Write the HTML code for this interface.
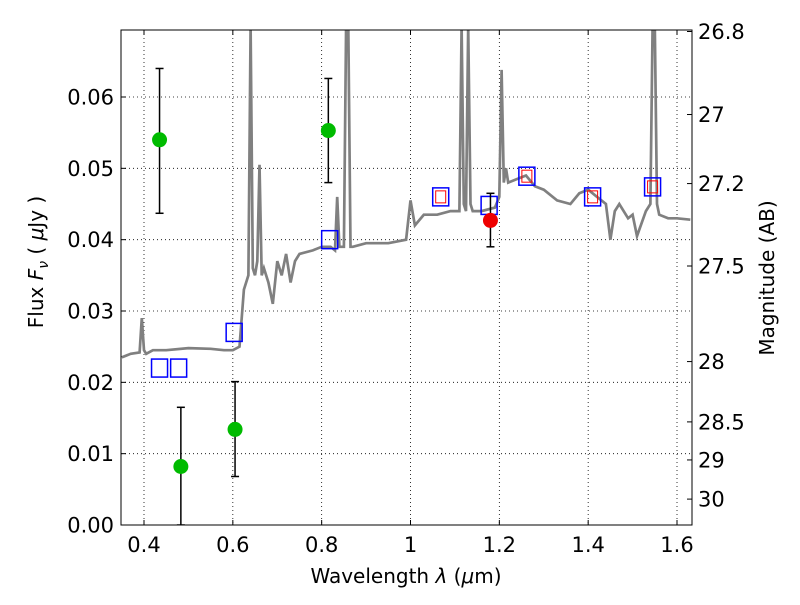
<!DOCTYPE html>
<html><head><meta charset="utf-8"><style>
body{margin:0;background:#fff;}
svg text{font-family:"DejaVu Sans","Liberation Sans",sans-serif;fill:#000;}
</style></head><body>
<svg id="c" width="800" height="600" xmlns="http://www.w3.org/2000/svg"></svg>
<script>
const specX=[0.35,0.37,0.39,0.395,0.40,0.405,0.42,0.45,0.5,0.55,0.58,0.60,0.615,0.625,0.635,0.64,0.645,0.65,0.655,0.66,0.665,0.67,0.68,0.69,0.70,0.71,0.72,0.73,0.74,0.75,0.78,0.80,0.82,0.83,0.835,0.84,0.85,0.855,0.86,0.865,0.87,0.9,0.95,0.99,1.0,1.01,1.03,1.06,1.09,1.11,1.115,1.12,1.125,1.13,1.135,1.14,1.145,1.16,1.19,1.20,1.205,1.21,1.215,1.22,1.24,1.26,1.28,1.30,1.33,1.36,1.38,1.40,1.42,1.44,1.45,1.46,1.47,1.49,1.50,1.51,1.53,1.54,1.545,1.55,1.555,1.56,1.58,1.60,1.63];
const specY=[0.0235,0.024,0.0242,0.029,0.0245,0.024,0.0245,0.0245,0.0248,0.0247,0.0245,0.0245,0.025,0.033,0.035,0.07,0.036,0.035,0.037,0.0505,0.035,0.036,0.034,0.031,0.037,0.035,0.038,0.034,0.037,0.038,0.0385,0.039,0.039,0.0385,0.046,0.039,0.039,0.07,0.07,0.039,0.039,0.0395,0.0395,0.040,0.0455,0.042,0.0435,0.0435,0.044,0.044,0.07,0.045,0.044,0.07,0.045,0.044,0.044,0.044,0.0445,0.046,0.0638,0.048,0.05,0.048,0.0485,0.049,0.0475,0.047,0.0455,0.045,0.0465,0.047,0.046,0.045,0.040,0.044,0.045,0.043,0.0435,0.0405,0.044,0.045,0.07,0.07,0.045,0.0435,0.043,0.043,0.0428];
const photX=[0.435,0.483,0.605,0.815];
const photY=[0.054,0.0082,0.0134,0.0553];
const photLo=[0.0437,0.0,0.0068,0.048];
const photHi=[0.064,0.0165,0.0201,0.0626];
const redX=[1.18],redY=[0.0427],redLo=[0.039],redHi=[0.0465];
const modX=[0.435,0.478,0.603,0.818,1.068,1.177,1.262,1.41,1.545];
const modY=[0.022,0.022,0.027,0.040,0.046,0.0448,0.0489,0.046,0.0474];
const redBoxX=[1.068,1.262,1.41,1.545];
const redBoxY=[0.046,0.0489,0.046,0.0474];
const xTicks=[0.4,0.6,0.8,1.0,1.2,1.4,1.6];
const xTickLabels=["0.4","0.6","0.8","1","1.2","1.4","1.6"];
const yTicks=[0,0.01,0.02,0.03,0.04,0.05,0.06];
const yTickLabels=["0.00","0.01","0.02","0.03","0.04","0.05","0.06"];
const magTicks=[26.8,27,27.2,27.5,28,28.5,29,30];
const magLabels=["26.8","27","27.2","27.5","28","28.5","29","30"];

const L=121,R=692,T=30,B=525;
const X=v=>144+(v-0.4)*444.17;
const Y=v=>525-v*7133.3;
const svg=document.getElementById('c');
const NS='http://www.w3.org/2000/svg';
function mk(t,a,p){const e=document.createElementNS(NS,t);for(const k in a)e.setAttribute(k,a[k]);(p||svg).appendChild(e);return e;}
const defs=mk('defs',{});const cp=mk('clipPath',{id:'pc'},defs);mk('rect',{x:L,y:T,width:R-L,height:B-T},cp);

const grid=mk('g',{});


xTicks.forEach(v=>mk('line',{x1:X(v),x2:X(v),y1:T,y2:B,stroke:'#000','stroke-dasharray':'1,3','stroke-width':0.8},grid));
yTicks.forEach(v=>mk('line',{x1:L,x2:R,y1:Y(v),y2:Y(v),stroke:'#000','stroke-dasharray':'1,3','stroke-width':0.8},grid));

const g=mk('g',{'clip-path':'url(#pc)'});
let d=specX.map((x,i)=>(i?'L':'M')+X(x).toFixed(1)+','+Y(specY[i]).toFixed(1)).join('');
const sp=mk('path',{d:d,fill:'none',stroke:'#808080','stroke-width':2.7},g);



modX.forEach((x,i)=>{const r=mk('rect',{x:X(x)-8,y:Y(modY[i])-9,width:16,height:18,fill:'none',stroke:'#0000ff','stroke-width':1.5},g);

});
redBoxX.forEach((x,i)=>{const r=mk('rect',{x:X(x)-5,y:Y(redBoxY[i])-6,width:10,height:12,fill:'none',stroke:'#ff0000','stroke-width':1},g);

});

function pts(xs,ys,lo,hi,col,name){xs.forEach((x,i)=>{
 const e=mk('g',{},g);
 
 
 mk('line',{x1:X(x),x2:X(x),y1:Y(lo[i]),y2:Y(hi[i]),stroke:'#000','stroke-width':1.5},e);
 mk('line',{x1:X(x)-4,x2:X(x)+4,y1:Y(lo[i]),y2:Y(lo[i]),stroke:'#000','stroke-width':1.5},e);
 mk('line',{x1:X(x)-4,x2:X(x)+4,y1:Y(hi[i]),y2:Y(hi[i]),stroke:'#000','stroke-width':1.5},e);
 mk('circle',{cx:X(x),cy:Y(ys[i]),r:7.5,fill:col},e);});}
pts(photX,photY,photLo,photHi,'#00bb00','observed-flux-point');
pts(redX,redY,redLo,redHi,'#ee0000','observed-flux-red-point');

mk('rect',{x:L,y:T,width:R-L,height:B-T,fill:'none',stroke:'#000','stroke-width':1});
xTicks.forEach((v,i)=>{mk('line',{x1:X(v),x2:X(v),y1:B,y2:B-5,stroke:'#000'});mk('line',{x1:X(v),x2:X(v),y1:T,y2:T+5,stroke:'#000'});
 const t=mk('text',{x:X(v),y:552,'text-anchor':'middle','font-size':21});t.textContent=xTickLabels[i];
 });
yTicks.forEach((v,i)=>{mk('line',{x1:L,x2:L+5,y1:Y(v),y2:Y(v),stroke:'#000'});
 const t=mk('text',{x:114,y:Y(v)+7.5,'text-anchor':'end','font-size':21});t.textContent=yTickLabels[i];
 });
magTicks.forEach((m,i)=>{const f=Math.pow(10,(23.9-m)/2.5);const y=Y(f);
 mk('line',{x1:R,x2:R-5,y1:y,y2:y,stroke:'#000'});
 const t=mk('text',{x:698,y:y+7.5,'font-size':21});t.textContent=magLabels[i];
 });
</script>
<svg width="800" height="600" style="position:absolute;left:0;top:0">
<text x="406" y="583" text-anchor="middle" font-size="20">Wavelength  <tspan font-style="italic">λ</tspan> (<tspan font-style="italic">μ</tspan>m)</text>
<text transform="translate(43,262) rotate(-90)" text-anchor="middle" font-size="20">Flux  <tspan font-style="italic">F</tspan><tspan font-style="italic" font-size="14" dy="5">ν</tspan><tspan dy="-5">  (  </tspan><tspan font-style="italic">μ</tspan>Jy )</text>
<text transform="translate(774,278) rotate(-90)" text-anchor="middle" font-size="20">Magnitude (AB)</text>
</svg>
</body></html>
